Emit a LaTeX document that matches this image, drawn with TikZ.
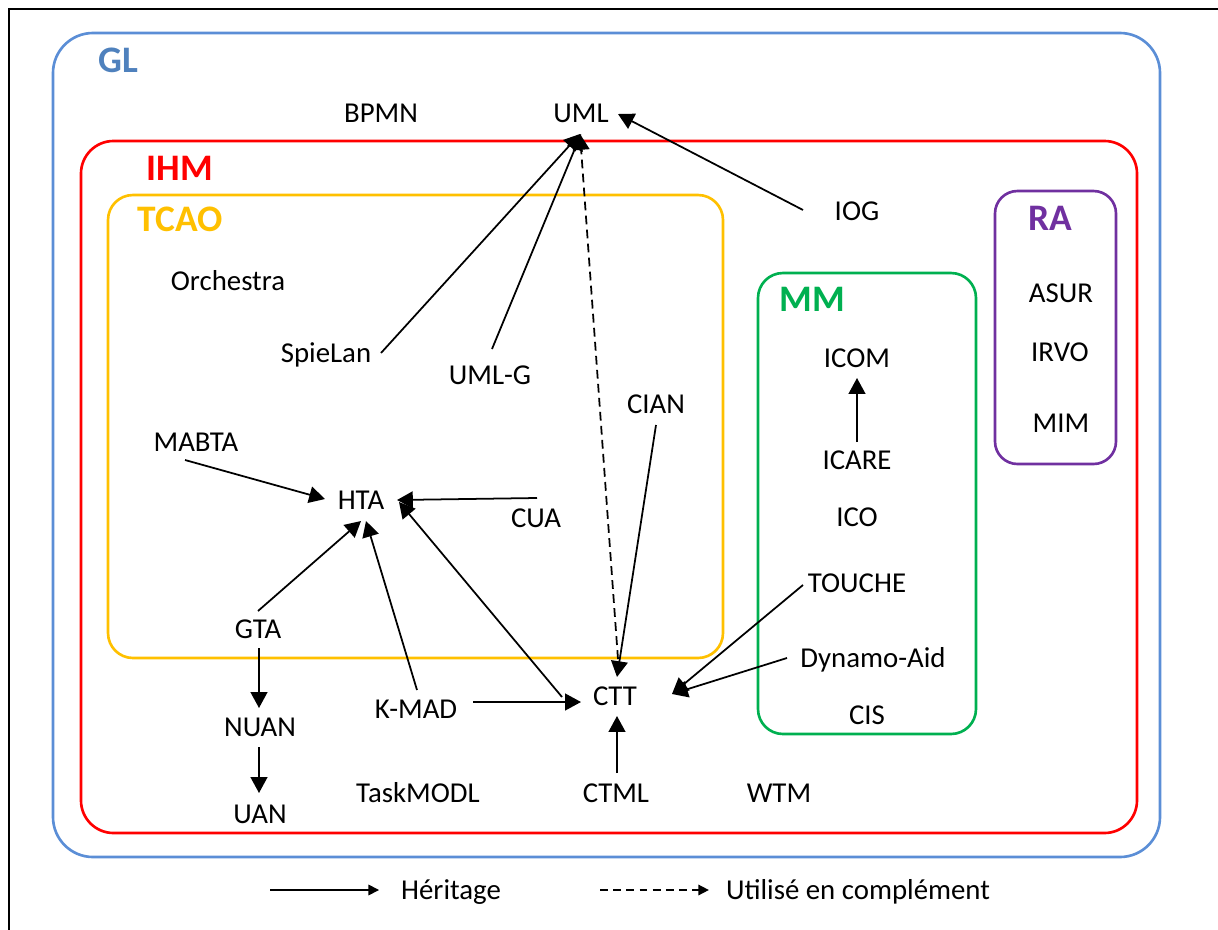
\documentclass[tikz,border=0pt]{standalone}
\usepackage{fontspec}
\setmainfont{Carlito}
\usetikzlibrary{arrows.meta,calc}

\definecolor{gltrait}{RGB}{91,142,214}
\definecolor{gltexte}{RGB}{79,129,189}
\definecolor{tcao}{RGB}{255,192,0}
\definecolor{mm}{RGB}{0,176,80}
\definecolor{ra}{RGB}{112,48,160}

\tikzset{
  every node/.style={font=\fontsize{16.4}{19}\selectfont, inner sep=1pt, text height=10.6pt, text depth=0pt},
  titre/.style={font=\fontsize{21.3}{25}\selectfont\bfseries, text height=13.7pt},
  domaine/.style={line width=1.5pt, rounded corners=#1},
  herit/.style={-{Triangle[length=9pt,width=9.5pt]}, line width=1pt},
  compl/.style={herit, dash pattern=on 5pt off 3pt},
  legende/.style={-{Triangle[length=6pt,width=6pt]}, line width=0.9pt}
}

\begin{document}
\begin{tikzpicture}[x=0.02cm, y=-0.02cm]
        \useasboundingbox (0,0) rectangle (1218,930);

        % Cadre
        \draw[line width=1.7pt] (9,930) -- (9,9) -- (1218,9);

        % Domaines
        \draw[domaine=0.8cm, gltrait] (53,33) rectangle (1160,857);
        \draw[domaine=0.65cm, red] (81,141) rectangle (1137,833);
        \draw[domaine=0.5cm, tcao] (108,195) rectangle (723,658);
        \draw[domaine=0.5cm, mm] (758,273) rectangle (976,734);
        \draw[domaine=0.45cm, ra] (995,191) rectangle (1116,464);

        \node[titre, gltexte] (gl) at (118,60) {GL};
        \node[titre, red] (ihm) at (180,168) {IHM};
        \node[titre, tcao] (tcaot) at (180,219) {TCAO};
        \node[titre, mm] (mmt) at (812,299) {MM};
        \node[titre, ra] (rat) at (1050,218) {RA};

        % Notations
        \node (bpmn) at (381,113) {BPMN};
        \node (uml) at (581,113) {UML};
        \node (iog) at (857,211) {IOG};
        \node (orchestra) at (228,281) {Orchestra};
        \node (spielan) at (326,353) {SpieLan};
        \node (umlg) at (490,375) {UML-G};
        \node (cian) at (656,404) {CIAN};
        \node (mabta) at (196,442) {MABTA};
        \node (hta) at (361,500) {HTA};
        \node (cua) at (536,518) {CUA};
        \node (gta) at (258,629) {GTA};
        \node (nuan) at (260,727) {NUAN};
        \node (uan) at (260,814) {UAN};
        \node (kmad) at (416,709) {K-MAD};
        \node (ctt) at (615,696) {CTT};
        \node (taskmodl) at (418,793) {TaskMODL};
        \node (ctml) at (616,793) {CTML};
        \node (wtm) at (779,793) {WTM};
        \node (icom) at (857,358) {ICOM};
        \node (icare) at (857,460) {ICARE};
        \node (ico) at (857,517) {ICO};
        \node (touche) at (857,583) {TOUCHE};
        \node (dynamo) at (873,658) {Dynamo-Aid};
        \node (cis) at (867,715) {CIS};
        \node (asur) at (1061,293) {ASUR};
        \node (irvo) at (1060,352) {IRVO};
        \node (mim) at (1061,423) {MIM};

        % Heritage
        \draw[herit] ($(iog)+(-54,-1)$) -- ($(uml)+(37,1)$);
        \draw[herit] ($(spielan)+(55,0)$) -- ($(uml)+(-1,21)$);
        \draw[herit] ($(umlg)+(2,-26)$) -- ($(uml)+(0,21)$);
        \draw[herit] ($(mabta)+(-11,18)$) -- ($(hta)+(-36,-1)$);
        \draw[herit] ($(cua)+(1,-20)$) -- ($(hta)+(36,0)$);
        \draw[herit] ($(gta)+(0,-18)$) -- ($(hta)+(0,21)$);
        \draw[herit] ($(kmad)+(1,-19)$) -- ($(hta)+(5,21)$);
        \draw[herit] ($(ctt)+(-53,1)$) -- ($(hta)+(38,2)$);
        \draw[herit] ($(kmad)+(57,-7)$) -- ($(ctt)+(-34,6)$);
        \draw[herit] ($(cian)+(0,21)$) -- ($(ctt)+(2,-19)$);
        \draw[herit] ($(touche)+(-54,2)$) -- ($(ctt)+(57,-2)$);
        \draw[herit] ($(dynamo)+(-86,0)$) -- ($(ctt)+(57,-2)$);
        \draw[herit] ($(ctml)+(1,-20)$) -- ($(ctt)+(2,20)$);
        \draw[herit] ($(gta)+(1,19)$) -- ($(nuan)+(-1,-19)$);
        \draw[herit] ($(nuan)+(-1,20)$) -- ($(uan)+(-1,-21)$);
        \draw[herit] ($(icare)+(0,-18)$) -- ($(icom)+(0,20)$);

        % Complement
        \draw[compl] ($(ctt)+(4,-23)$) -- ($(uml)+(-1,21)$);

        % Legende
        \node (lherit) at (451,890) {Héritage};
        \node (lcompl) at (858,890) {Utilisé en complément};
        \coordinate (dherit) at (270,890);
        \coordinate (dcompl) at (600,890);
        \draw[legende] (dherit) -- ($(lherit.west)+(-20,0)$);
        \draw[legende, dash pattern=on 4.5pt off 3pt] (dcompl) -- ($(lcompl.west)+(-15,0)$);
\end{tikzpicture}
\end{document}
